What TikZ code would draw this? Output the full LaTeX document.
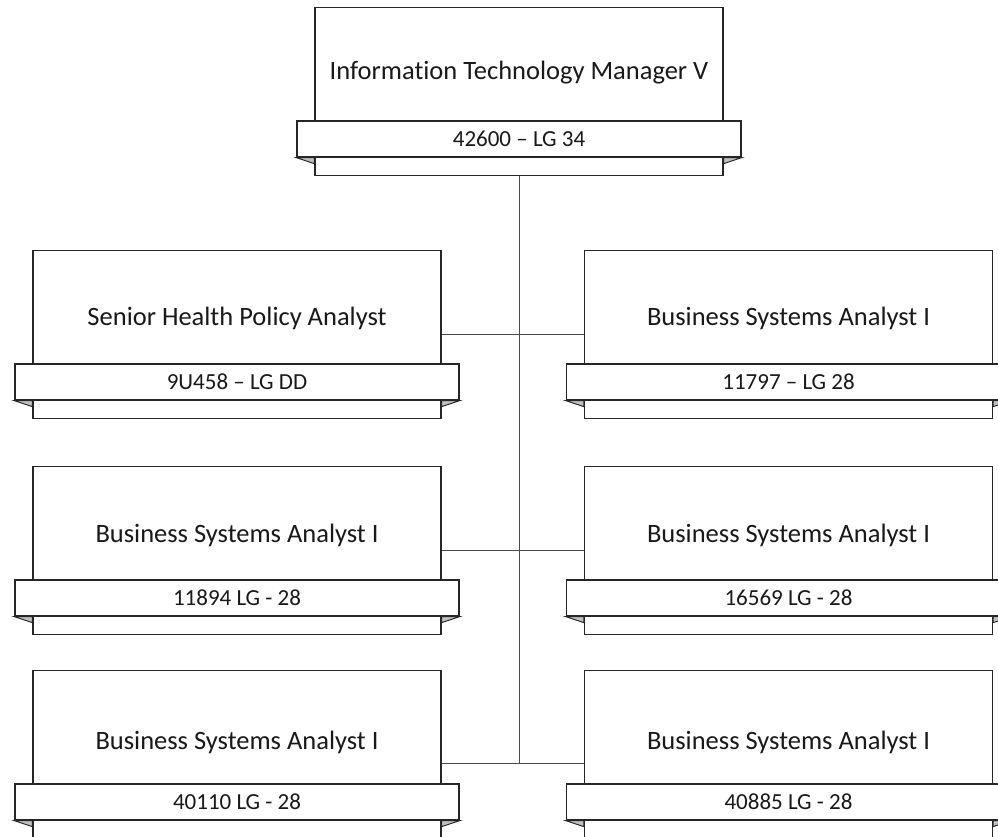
\documentclass[tikz,border=0pt]{standalone}
\usepackage{fontspec}
\setmainfont{Carlito}[Ligatures={NoCommon}]
\begin{document}
\begin{tikzpicture}[x=1pt,y=-1pt,
  mainbox/.style={draw=black!85,line width=1.3pt,fill=white,minimum width=408pt,minimum height=168pt,inner sep=0pt,anchor=north},
  titletext/.style={font=\fontsize{26.5}{30}\selectfont,inner sep=0pt,text=black!90},
  band/.style={draw=black!85,line width=1.3pt,fill=white,minimum width=444pt,minimum height=36pt,inner sep=0pt,font=\fontsize{23}{26}\selectfont,text=black!90},
  fold/.style={draw=black!85,line width=1pt,fill=black!25,line join=miter},
  conn/.style={draw=black!70,line width=1pt}]
\useasboundingbox (0,0) rectangle (998,836);
\clip (0,0) rectangle (998,836);
\newcommand\orgbox[6]{% name, cx, top, title, code, textoffset
  \node[mainbox] (#1) at (#2,#3) {};
  \node[band] (#1b) at (#2,{#3+132}) {#5};
  \node[titletext] (#1t) at (#2,{#3+#6}) {#4};
  \draw[fold] (#1b.south west) -- (#1.west |- #1b.south) -- ([yshift=-6pt]#1.west |- #1b.south) -- cycle;
  \draw[fold] (#1b.south east) -- (#1.east |- #1b.south) -- ([yshift=-6pt]#1.east |- #1b.south) -- cycle;
}
\orgbox{top}{519}{7}{Information Technology Manager V}{42600 – LG 34}{66}
\orgbox{L1}{237}{250}{Senior Health Policy Analyst}{9U458 – LG DD}{68}
\orgbox{R1}{788.5}{250}{Business Systems Analyst I}{11797 – LG 28}{68}
\orgbox{L2}{237}{466}{Business Systems Analyst I}{11894 LG - 28}{69}
\orgbox{R2}{788.5}{466}{Business Systems Analyst I}{16569 LG - 28}{69}
\orgbox{L3}{237}{670}{Business Systems Analyst I}{40110 LG - 28}{72}
\orgbox{R3}{788.5}{670}{Business Systems Analyst I}{40885 LG - 28}{72}
\coordinate (trunkend) at (519,763);
\draw[conn] (top.south) -- (trunkend);
\draw[conn] (L1.east) -- (R1.west);
\draw[conn] (L2.east) -- (R2.west);
\draw[conn] ([yshift=-9pt]L3.east) -- ([yshift=-9pt]R3.west);
\end{tikzpicture}
\end{document}
